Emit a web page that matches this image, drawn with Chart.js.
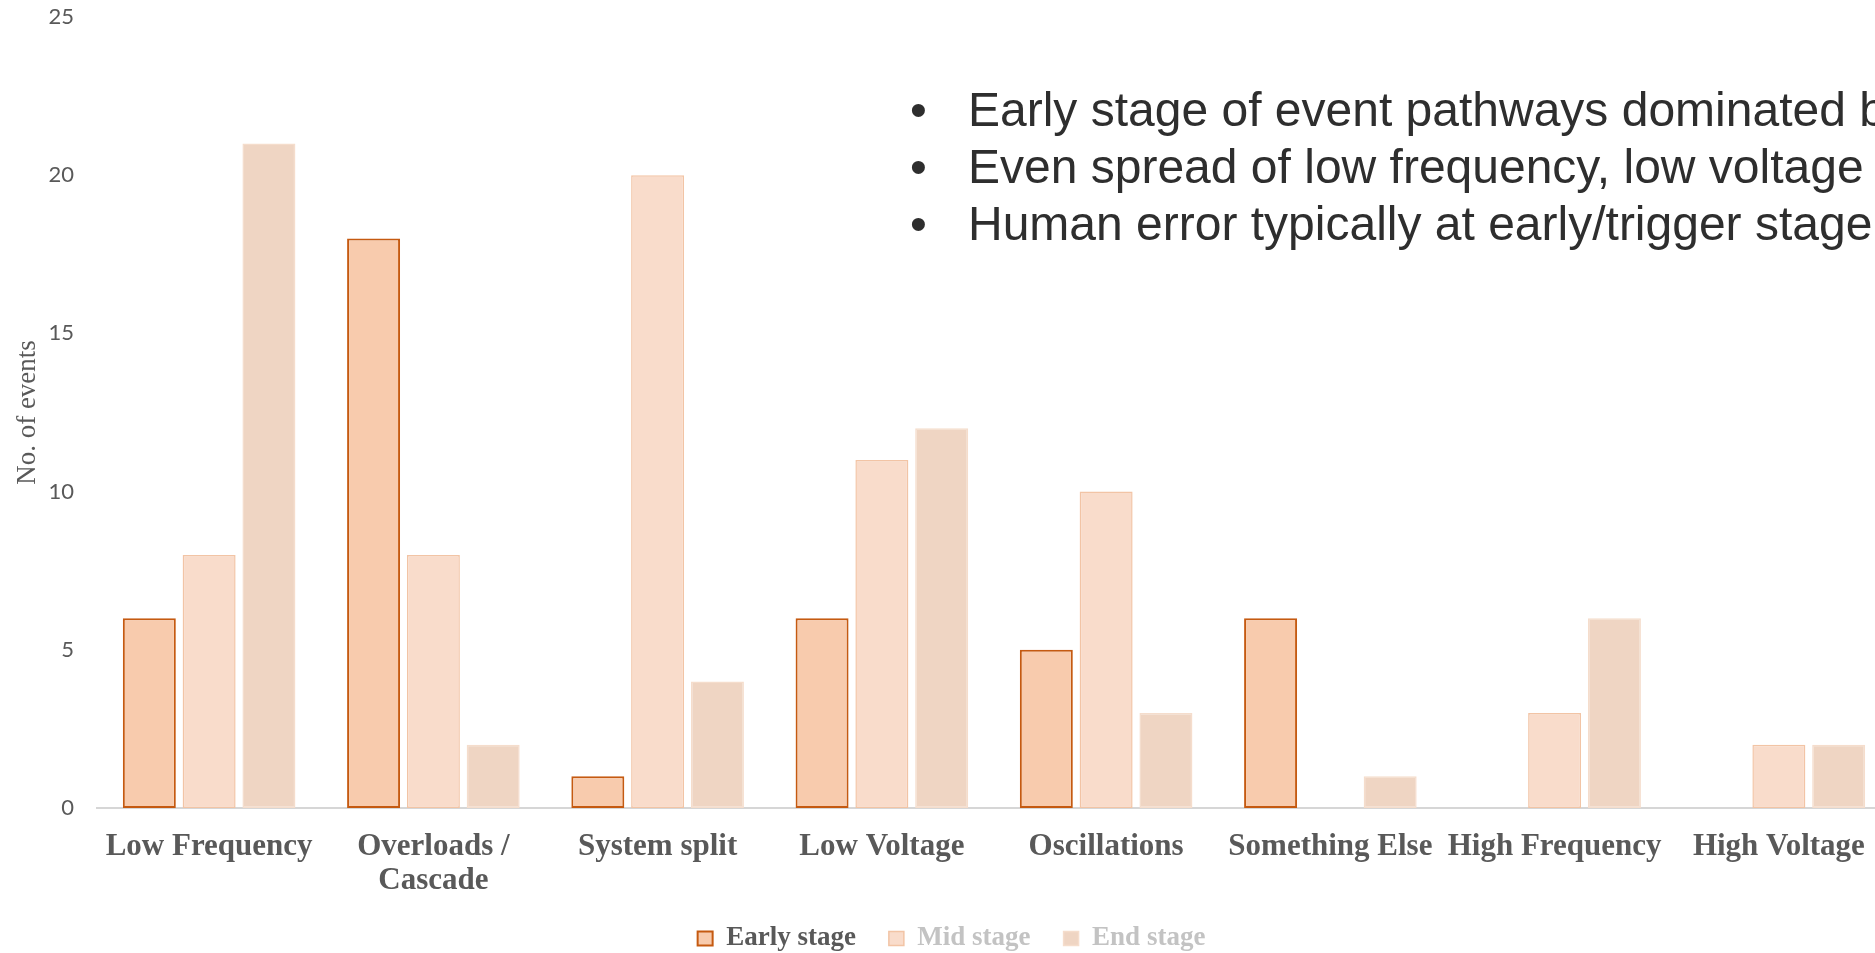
<!DOCTYPE html>
<html>
<head>
<meta charset="utf-8">
<script src="https://cdn.jsdelivr.net/npm/chart.js@4.4.1/dist/chart.umd.min.js"></script>
<style>
  html, body { margin: 0; padding: 0; background: #ffffff; overflow: hidden; width: 1875px; height: 953px; }
  #wrap { position: absolute; left: 0; top: 0; width: 1900px; height: 962px; }
  #notes { position: absolute; left: 0; top: 81px; font-family: "Liberation Sans", Arial, sans-serif; font-size: 48px; line-height: 57px; color: #2e2e2e; white-space: nowrap; }
  #notes .line { position: relative; height: 57px; }
  #notes .bullet { position: absolute; left: 910px; }
  #notes .txt { position: absolute; left: 968px; }
</style>
</head>
<body>
<div id="wrap"><canvas id="c" width="1900" height="962"></canvas></div>
<div id="notes">
  <div class="line"><span class="bullet">•</span><span class="txt">Early stage of event pathways dominated by</span></div>
  <div class="line"><span class="bullet">•</span><span class="txt">Even spread of low frequency, low voltage</span></div>
  <div class="line"><span class="bullet">•</span><span class="txt">Human error typically at early/trigger stage</span></div>
</div>
<script>
// ---- data ----
const categories = ['Low Frequency', ['Overloads /', 'Cascade'], 'System split', 'Low Voltage', 'Oscillations', 'Something Else', 'High Frequency', 'High Voltage'];
const seriesNames = ['Early stage', 'Mid stage', 'End stage'];
const earlyStage = [6, 18, 1, 6, 5, 6, null, null];
const midStage   = [8, 8, 20, 11, 10, null, 3, 2];
const endStage   = [21, 2, 4, 12, 3, 1, 6, 2];
const yTicks = [0, 5, 10, 15, 20, 25];

const serifFont = '"Liberation Serif", "Times New Roman", serif';
const labelGray = '#595959';

new Chart(document.getElementById('c'), {
  type: 'bar',
  data: {
    labels: categories,
    datasets: [
      { label: seriesNames[0], data: earlyStage, backgroundColor: '#f8cbad', borderColor: '#c55a11', borderWidth: 2, borderSkipped: false },
      { label: seriesNames[1], data: midStage, backgroundColor: '#f9dccb', borderColor: '#f2c4a5', borderWidth: 1.5, borderSkipped: false },
      { label: seriesNames[2], data: endStage, backgroundColor: '#efd5c3', borderColor: '#f5ddcc', borderWidth: 1.5, borderSkipped: false }
    ]
  },
  options: {
    responsive: false,
    animation: false,
    devicePixelRatio: 1,
    layout: { padding: { left: 12, right: 9, top: 17, bottom: 0 } },
    datasets: { bar: { categoryPercentage: 0.8, barPercentage: 0.886 } },
    plugins: {
      tooltip: { enabled: false },
      legend: {
        position: 'bottom',
        labels: {
          boxWidth: 15,
          boxHeight: 14,
          padding: 33,
          font: { family: serifFont, size: 27, weight: 'bold' },
          color: labelGray,
          generateLabels(chart) {
            const items = Chart.defaults.plugins.legend.labels.generateLabels(chart);
            items.forEach((it, i) => { it.fontColor = i === 0 ? labelGray : '#c3c3c3'; it.hidden = false; });
            return items;
          }
        }
      }
    },
    scales: {
      x: {
        grid: { display: false, drawTicks: false },
        border: { display: true, color: '#d6d6d6', width: 2 },
        ticks: {
          autoSkip: false, maxRotation: 0, minRotation: 0, padding: 22,
          color: labelGray,
          font: { family: serifFont, size: 31, weight: 'bold', lineHeight: 34 / 31 }
        },
        afterFit(scale) { scale.height = 84; scale.paddingLeft = 0; scale.paddingRight = 0; }
      },
      y: {
        min: 0, max: 25,
        afterBuildTicks(scale) { scale.ticks = yTicks.map(v => ({ value: v })); },
        grid: { display: false, drawTicks: false },
        border: { display: false },
        ticks: { padding: 23, color: labelGray, font: { family: 'Lato, "Open Sans", sans-serif', size: 22 } },
        title: {
          display: true, text: 'No. of events', color: labelGray,
          font: { family: serifFont, size: 27, lineHeight: 1.15 },
          padding: { top: 0, bottom: 0 }
        },
        afterFit(scale) { scale.width = 85; scale.paddingTop = 0; scale.paddingBottom = 0; }
      }
    }
  }
});
</script>
</body>
</html>
